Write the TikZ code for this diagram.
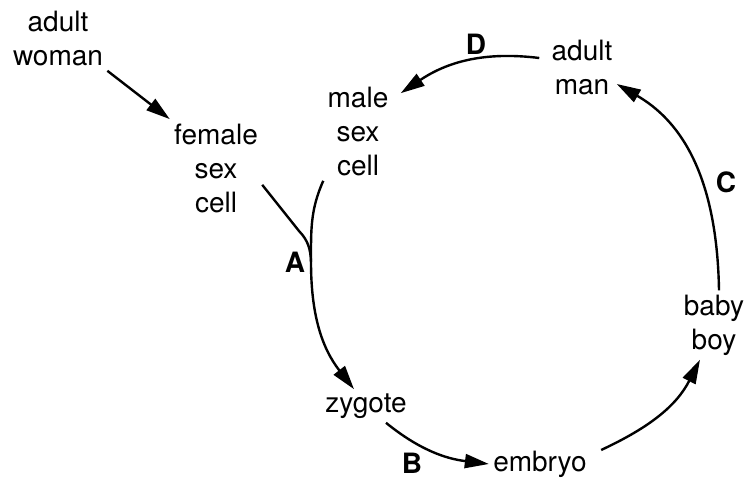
\documentclass[tikz,border=0pt]{standalone}
\usepackage{fontspec}
\setmainfont{TeX Gyre Heros}
\usetikzlibrary{arrows.meta}

\begin{document}
\begin{tikzpicture}[x=0.5pt, y=-0.5pt,
                stage/.style={align=center, inner sep=2pt, font=\fontsize{14}{17}\selectfont},
                letter/.style={inner sep=0pt, font=\fontsize{14}{17}\selectfont\bfseries},
                link/.style={line width=1.2pt, -{Triangle[length=12pt, width=7pt]}}]
                \useasboundingbox (0,0) rectangle (749,480);
                \node[stage] (woman) at (58,39) {adult\\woman};
                \node[stage] (female) at (216,168) {female\\sex\\cell};
                \node[stage] (male) at (358,132) {male\\sex\\cell};
                \node[stage] (man) at (582,68) {adult\\man};
                \node[stage] (baby) at (714,325) {baby\\boy};
                \node[stage] (zygote) at (366,406) {zygote};
                \node[stage] (embryo) at (540,464) {embryo};
                \node[letter] (A) at (295,262) {A};
                \node[letter] (B) at (412,463) {B};
                \node[letter] (C) at (726,182) {C};
                \node[letter] (D) at (476,44) {D};
                \coordinate (kinkA) at (299,231);
                \coordinate (joinA) at (311,262);
                \draw[link] (woman.south east) -- (female.north west);
                \draw[line width=1.2pt] (female.-20) -- (kinkA) to[out=-46, in=92] (joinA);
                \draw[link] (male.south west) to[out=246, in=90] (joinA) to[out=270, in=128] ([xshift=-6pt]zygote.north);
                \draw[link] ([xshift=10pt]zygote.south) to[out=-39, in=173] (embryo.west);
                \draw[link] ([shift={(5pt,7pt)}]embryo.east) to[out=25, in=243] ([xshift=-7pt]baby.south);
                \draw[link] ([xshift=2.5pt]baby.north) to[out=91, in=-30] ([yshift=-8pt]man.east);
                \draw[link] ([shift={(-4pt,5pt)}]man.west) to[out=173, in=34] ([shift={(4pt,-5pt)}]male.north east);
            \end{tikzpicture}
\end{document}
